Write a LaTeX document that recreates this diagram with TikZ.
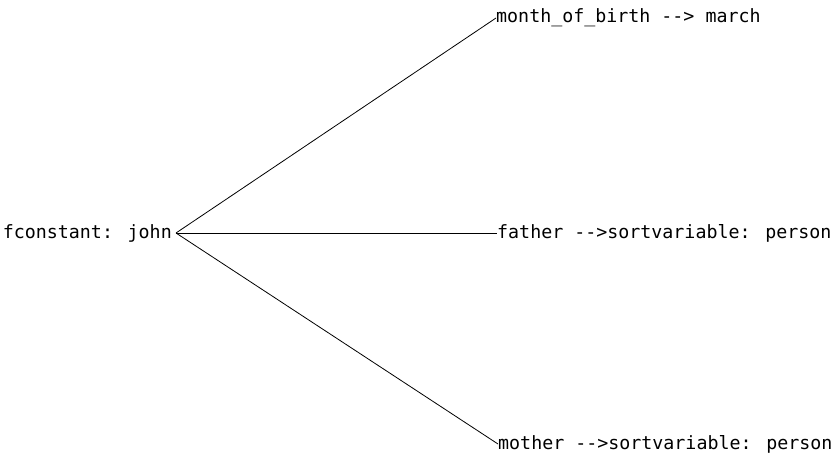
\documentclass[tikz,border=0pt]{standalone}
\usepackage{fontspec}
\newfontfamily\monof{DejaVu Sans Mono}
\begin{document}
\begin{tikzpicture}[x=1pt,y=-1pt,
  lbl/.style={font=\monof\fontsize{18.3}{20}\selectfont, inner sep=0pt},
  edge/.style={line width=0.8pt}]
\useasboundingbox (0,0) rectangle (834,460);
\node[lbl, anchor=east] (root) at (172,233) {fconstant: john};
\coordinate (hub) at (176,233);
\node[lbl, anchor=west] (mob) at (496,18) {month\_of\_birth --> march};
\node[lbl, anchor=west] (fat) at (497,233) {father -->sortvariable: person};
\node[lbl, anchor=west] (mot) at (498,444) {mother -->sortvariable: person};
\draw[edge] (hub) -- (mob.west);
\draw[edge] (hub) -- (fat.west);
\draw[edge] (hub) -- (mot.west);
\end{tikzpicture}
\end{document}
